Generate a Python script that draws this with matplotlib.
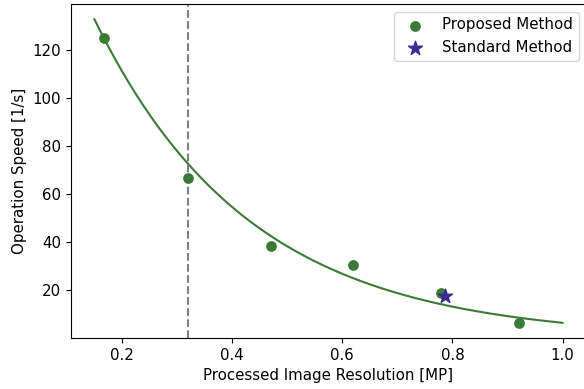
import numpy as np
import matplotlib
matplotlib.use("Agg")
import matplotlib.pyplot as plt

# measured points
resolution_mp = [0.167, 0.32, 0.47, 0.62, 0.78, 0.92]
speed_hz = [125, 67, 38.5, 30.5, 19, 6.5]

standard_res = [0.787]
standard_speed = [17.5]

cutoff_res = 0.32

# fitted model y = a * exp(-b x), coefficients
fit_a = 226.5
fit_b = 3.55
fit_range = (0.15, 1.0)

GREEN = "#3b7a37"
BLUE = "#3a2a96"
FS = 10.8

xs = np.linspace(fit_range[0], fit_range[1], 200)
ys = fit_a * np.exp(-fit_b * xs)

fig = plt.figure(figsize=(5.84, 3.89), dpi=100)
ax = fig.add_axes([71 / 584, 51 / 389, 515 / 584, 334 / 389])

ax.plot(xs, ys, color=GREEN, lw=1.5)
ax.scatter(resolution_mp, speed_hz, color=GREEN, s=45, zorder=3, label="Proposed Method")
ax.scatter(standard_res, standard_speed, color=BLUE, marker="*", s=110, zorder=4, label="Standard Method")
ax.axvline(cutoff_res, color="gray", ls="--", lw=1.5)

ax.set_xlabel("Processed Image Resolution [MP]", fontsize=FS)
ax.set_ylabel("Operation Speed [1/s]", fontsize=FS)
ax.set_xticks([0.2, 0.4, 0.6, 0.8, 1.0])
ax.set_yticks([20, 40, 60, 80, 100, 120])
ax.tick_params(labelsize=FS)
ax.legend(loc="upper right", fontsize=FS)

fig.savefig("out.png", dpi=100)
